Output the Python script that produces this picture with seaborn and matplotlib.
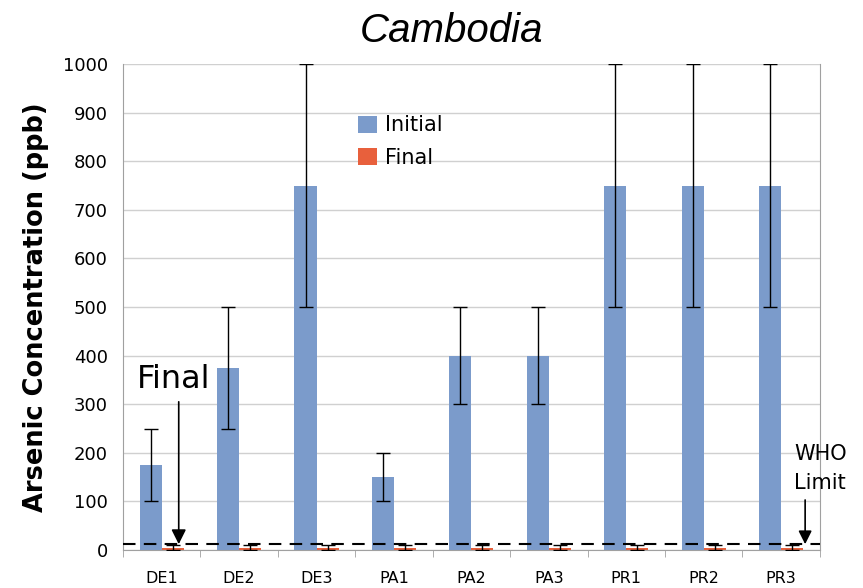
import pandas as pd
import numpy as np
import matplotlib.pyplot as plt
import seaborn as sns

# data
sites = ['DE1', 'DE2', 'DE3', 'PA1', 'PA2', 'PA3', 'PR1', 'PR2', 'PR3']
initial = [175, 375, 750, 150, 400, 400, 750, 750, 750]
initial_lo = [100, 250, 500, 100, 300, 300, 500, 500, 500]
initial_hi = [250, 500, 1000, 200, 500, 500, 1000, 1000, 1000]
final = [5, 5, 5, 5, 5, 5, 5, 5, 5]
final_lo = [0, 0, 0, 0, 0, 0, 0, 0, 0]
final_hi = [10, 10, 10, 10, 10, 10, 10, 10, 10]
who_limit = 12

df = pd.DataFrame({
    'Site': sites * 2,
    'Value': initial + final,
    'Stage': ['Initial'] * len(sites) + ['Final'] * len(sites),
})

sns.set_style('white')
plt.rcParams['font.family'] = ['DejaVu Sans']
plt.rcParams['text.color'] = 'black'
plt.rcParams['xtick.color'] = 'black'
plt.rcParams['ytick.color'] = 'black'
plt.rcParams['axes.labelcolor'] = 'black'

fig = plt.figure(figsize=(8.63, 5.88), dpi=100)
ax = fig.add_axes([0.1425, 0.0646, 0.8075, 0.8264])

ax.set_axisbelow(True)
ax.yaxis.grid(True, color='#d0d0d0', lw=1)

sns.barplot(data=df, x='Site', y='Value', hue='Stage', order=sites,
            hue_order=['Initial', 'Final'],
            palette={'Initial': '#7b9bcb', 'Final': '#e8603c'},
            width=0.57, gap=0, ax=ax, errorbar=None, saturation=1, linewidth=0)

# asymmetric error bars from the bar centres
for cont, vals, lo, hi in [(ax.containers[0], initial, initial_lo, initial_hi),
                           (ax.containers[1], final, final_lo, final_hi)]:
    xs = [p.get_x() + p.get_width() / 2 for p in cont.patches]
    yerr = [np.array(vals) - np.array(lo), np.array(hi) - np.array(vals)]
    ax.errorbar(xs, vals, yerr=yerr, fmt='none', ecolor='black', elinewidth=1,
                capsize=5, capthick=1, zorder=5)

ax.axhline(who_limit, color='black', ls=(0, (6, 4)), lw=1.5, zorder=6)

ax.set_xlim(-0.5, len(sites) - 0.5)
ax.set_ylim(0, 1000)
ax.set_yticks(range(0, 1001, 100))
ax.set_xticks(np.arange(-0.5, len(sites), 1), minor=True)
ax.tick_params(axis='x', which='major', length=0, labelsize=11.5, pad=15)
ax.tick_params(axis='x', which='minor', length=5, color='#a0a0a0', direction='out')
ax.tick_params(axis='y', length=5, color='#a0a0a0', labelsize=13, direction='out', pad=6)
ax.xaxis.set_tick_params(which='minor', bottom=True)

for s in ['left', 'bottom', 'right']:
    ax.spines[s].set_color('#a0a0a0')
ax.spines['top'].set_visible(False)

ax.set_xlabel('')
ax.set_ylabel('Arsenic Concentration (ppb)', fontsize=18.5, fontweight='bold', labelpad=10)
fig.text(0.523, 0.948, 'Cambodia', fontsize=29, style='italic',
         family='Liberation Sans', ha='center', va='center')

leg = ax.legend(loc='upper left', bbox_to_anchor=(0.31, 0.933), frameon=False,
                fontsize=15, handlelength=0.9, handleheight=0.9, handletextpad=0.4,
                labelspacing=0.6)

# annotations
ax.text(0.15, 318, 'Final', ha='center', va='bottom', fontsize=23)
ax.annotate('', xy=(0.22, who_limit), xytext=(0.22, 305),
            arrowprops=dict(arrowstyle='-|>', color='black', lw=1.2,
                            mutation_scale=22, shrinkA=0, shrinkB=0))
ax.text(8.17, 118, 'WHO\nLimit', ha='left', va='bottom', fontsize=15, linespacing=1.55)
ax.annotate('', xy=(8.31, who_limit), xytext=(8.31, 103),
            arrowprops=dict(arrowstyle='-|>', color='black', lw=1.2,
                            mutation_scale=20, shrinkA=0, shrinkB=0))

plt.savefig('out.png', dpi=100)
